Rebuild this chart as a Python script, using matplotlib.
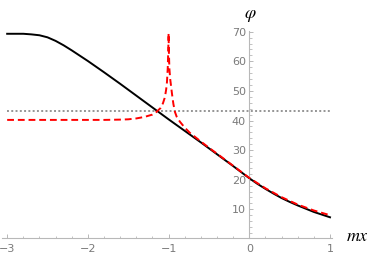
import matplotlib
matplotlib.use("Agg")
import matplotlib.pyplot as plt
from matplotlib.ticker import MultipleLocator, FixedLocator

# Black solid curve
black_x = [-3.0, -2.9, -2.8, -2.7, -2.6, -2.5, -2.4, -2.3, -2.2, -2.1, -2.0, -1.9, -1.8,
           -1.6, -1.4, -1.2, -1.0, -0.8, -0.6, -0.4, -0.2, 0.0, 0.1, 0.2, 0.3, 0.4, 0.5,
           0.6, 0.7, 0.8, 0.9, 1.0]
black_y = [69.3, 69.3, 69.3, 69.1, 68.8, 68.1, 66.9, 65.4, 63.7, 61.9, 60.1, 58.2, 56.3,
           52.4, 48.4, 44.4, 40.4, 36.5, 32.6, 28.6, 24.6, 20.5, 18.6, 16.9, 15.3, 13.8, 12.5,
           11.3, 10.2, 9.1, 8.2, 7.3]

# Red dashed curve
red_x = [-3.0, -2.5, -2.0, -1.8, -1.6, -1.5, -1.4, -1.3, -1.2, -1.15, -1.1, -1.07, -1.05,
         -1.04, -1.03, -1.02, -1.01, -1.003, -1.0, -0.997, -0.99, -0.98, -0.97, -0.96, -0.95,
         -0.94, -0.92, -0.9, -0.86, -0.8, -0.735, -0.6, -0.5, -0.4, -0.2, 0.0, 0.2, 0.4,
         0.6, 0.8, 1.0]
red_y = [40.2, 40.2, 40.2, 40.2, 40.3, 40.4, 40.7, 41.2, 42.0, 42.9, 44.2, 45.8, 47.5,
         48.8, 50.5, 53.0, 58.0, 65.0, 69.5, 64.0, 57.5, 54.0, 51.8, 49.5, 47.4,
         45.5, 42.8, 41.3, 39.6, 37.6, 35.8, 32.9, 30.8, 28.8, 24.7, 20.6, 17.1, 14.1,
         11.6, 9.6, 8.0]

# Gray dotted horizontal reference
ref_x = [-3.0, 1.0]
ref_y = [43.1, 43.1]

x_ticks = [-3, -2, -1, 0, 1]
x_ticklabels = ["\u22123", "\u22122", "\u22121", "0", "1"]
y_ticks = [10, 20, 30, 40, 50, 60, 70]
y_ticklabels = ["10", "20", "30", "40", "50", "60", "70"]

plt.rcParams['mathtext.fontset'] = 'stix'

fig = plt.figure(figsize=(3.74, 2.58), dpi=100)
ax = fig.add_axes([2 / 374, 20 / 258, 329.7 / 374, 207 / 258])
ax.set_xlim(-3.064, 1.021)
ax.set_ylim(0.3, 70.24)

ax.plot(ref_x, ref_y, color='#959595', lw=1.4, linestyle=(0, (1.0, 1.2)), zorder=1)
ax.plot(black_x, black_y, color='black', lw=1.4, zorder=2)
ax.plot(red_x, red_y, color='#ff0000', lw=1.4, linestyle=(0, (3.5, 2.0)), zorder=3)

for s in ['top', 'right']:
    ax.spines[s].set_visible(False)
ax.spines['left'].set_position(('data', 0))
axis_col = '#b8b8b8'
ax.spines['left'].set_color(axis_col)
ax.spines['bottom'].set_color(axis_col)
ax.spines['left'].set_linewidth(0.8)
ax.spines['bottom'].set_linewidth(0.8)

ax.xaxis.set_major_locator(FixedLocator(x_ticks))
ax.set_xticklabels(x_ticklabels)
ax.xaxis.set_minor_locator(MultipleLocator(0.2))
ax.yaxis.set_major_locator(FixedLocator(y_ticks))
ax.set_yticklabels(y_ticklabels)
ax.yaxis.set_minor_locator(MultipleLocator(2))

lab_col = '#7a7a7a'
ax.tick_params(axis='both', which='major', direction='in', length=3, width=0.7,
               color=axis_col, labelcolor=lab_col, labelsize=8)
ax.tick_params(axis='both', which='minor', direction='in', length=1.8, width=0.6,
               color=axis_col)
ax.tick_params(axis='x', which='major', pad=4)
ax.tick_params(axis='y', which='major', pad=2.5)

fig.text(250 / 374, 1 - 14.5 / 258, r'$\varphi$', fontsize=13, ha='center', va='center')
fig.text(358 / 374, 1 - 236 / 258, r'$mx$', fontsize=13, ha='center', va='center')

fig.savefig('out.png', dpi=100)
